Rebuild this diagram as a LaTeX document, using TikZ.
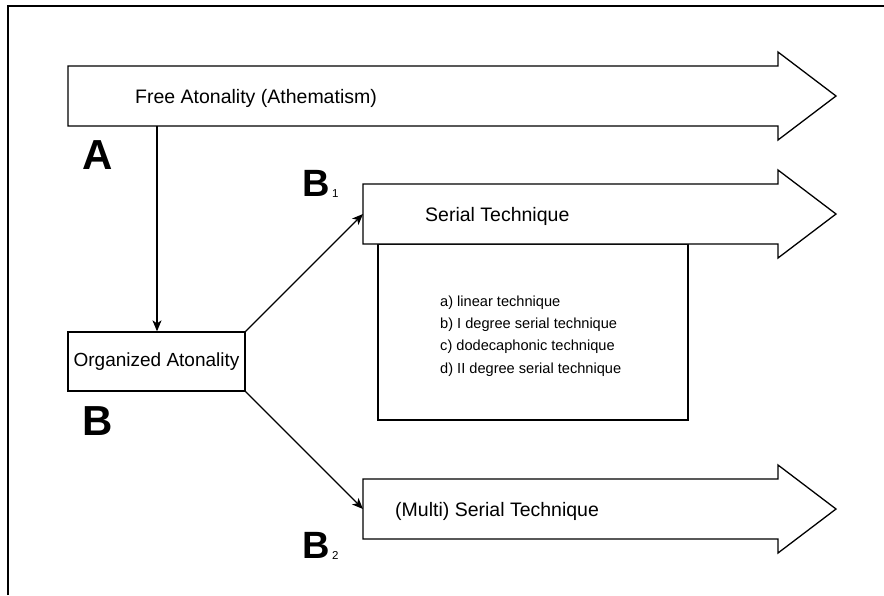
\documentclass[tikz,border=0pt]{standalone}
\usepackage{fontspec}
\setmainfont{Liberation Sans}
\usetikzlibrary{arrows.meta}
\begin{document}
\begin{tikzpicture}[x=1pt,y=-1pt,
  outline/.style={draw=black, line width=1.3pt, fill=white, line join=miter},
  flow/.style={draw=black, line width=1.2pt, -{Stealth[length=11pt,width=9pt,inset=3pt]}},
  bigletter/.style={font=\fontsize{42}{42}\selectfont\bfseries, inner sep=0pt, anchor=base},
  midletter/.style={font=\fontsize{38}{38}\selectfont\bfseries, inner sep=0pt, anchor=base},
  subdigit/.style={font=\fontsize{11.5}{11.5}\selectfont, inner sep=0pt, anchor=base west},
  arrowtext/.style={font=\fontsize{19.5}{19.5}\selectfont, inner sep=0pt, anchor=base west},
  itemtext/.style={font=\fontsize{14.6}{14.6}\selectfont, inner sep=0pt, anchor=base west}]
\useasboundingbox (0,0) rectangle (884,595);

% outer frame (only its top and left sides fall on the page)
\draw[line width=1.2pt] (8,595) -- (8,6) -- (884,6);

% A: free atonality
\draw[outline] (68,66) -- (778,66) -- (778,52) -- (836,96) -- (778,140) -- (778,126) -- (68,126) -- cycle;
\node[arrowtext] (free) at (135,103) {Free Atonality (Athematism)};
\coordinate (freeFoot) at (157,126);

% B1: serial technique with its list of techniques
\node[outline, minimum width=310pt, minimum height=176pt, inner sep=0pt] (details) at (533,332) {};
\draw[outline] (363,184) -- (778,184) -- (778,170) -- (836,214) -- (778,258) -- (778,244) -- (363,244) -- cycle;
\node[arrowtext] (serial) at (425,221) {Serial Technique};
\coordinate (serialTail) at (363,214);
\node[itemtext] (itemA) at (440,306) {a) linear technique};
\node[itemtext] (itemB) at (440,328.3) {b) I degree serial technique};
\node[itemtext] (itemC) at (440,350.7) {c) dodecaphonic technique};
\node[itemtext] (itemD) at (440,373) {d) II degree serial technique};

% B2: (multi) serial technique
\draw[outline] (363,479) -- (778,479) -- (778,465) -- (836,509) -- (778,553) -- (778,539) -- (363,539) -- cycle;
\node[arrowtext] (multi) at (395,516) {(Multi) Serial Technique};
\coordinate (multiTail) at (363,509);

% B: organized atonality
\node[outline, minimum width=177pt, minimum height=59pt, inner sep=0pt,
      font=\fontsize{19}{19}\selectfont] (organized) at (156.5,361.5) {Organized Atonality};

% connectors
\draw[flow] (freeFoot) -- (organized.north -| freeFoot);
\draw[flow] (organized.north east) -- (serialTail);
\draw[flow] (organized.south east) -- (multiTail);

% section letters
\node[bigletter] (labA) at (98,169) {A};
\node[bigletter] (labB) at (97.5,435) {B};
\node[midletter] (labB1) at (316,196) {B};
\node[subdigit] (sub1) at (332,197) {1};
\node[midletter] (labB2) at (316,558) {B};
\node[subdigit] (sub2) at (332,559) {2};
\end{tikzpicture}
\end{document}
